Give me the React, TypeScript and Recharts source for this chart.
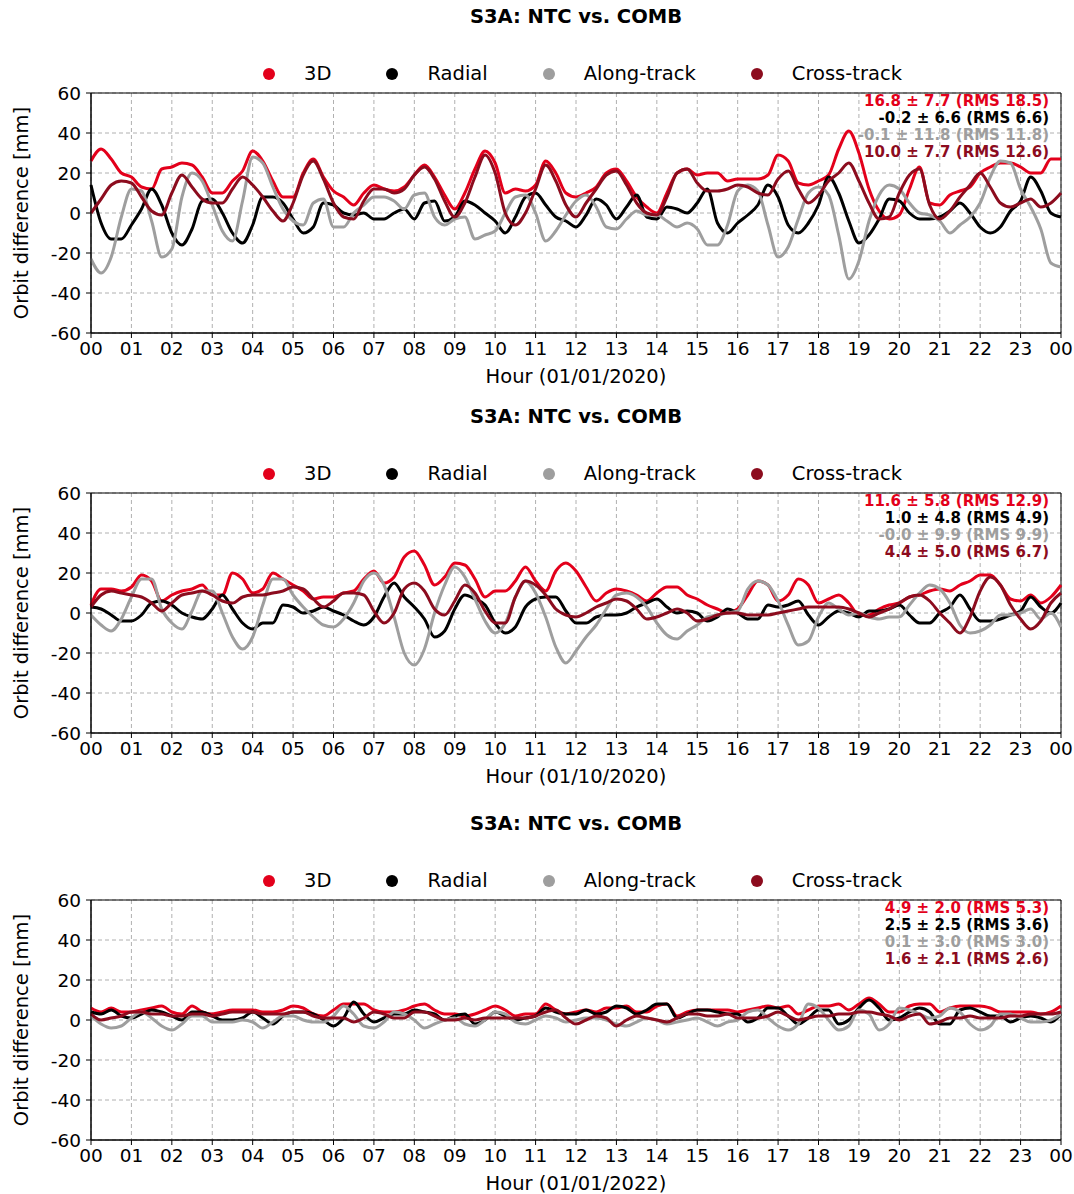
import React from 'react'
import { LineChart, Line, XAxis, YAxis, CartesianGrid, ReferenceArea } from 'recharts'

// quarter-hour sampling grid, 00:00 .. 24:00
const HOURS = Array.from({ length: 97 }, (_, i) => i / 4)
const X_TICKS = [0, 1, 2, 3, 4, 5, 6, 7, 8, 9, 10, 11, 12, 13, 14, 15, 16, 17, 18, 19, 20, 21, 22, 23, 24]
const Y_TICKS = [-60, -40, -20, 0, 20, 40, 60]
const SERIES_NAMES = ['3D', 'Radial', 'Along-track', 'Cross-track']
const COLORS = ['#e3001b', '#000000', '#9e9e9e', '#8c0c1e']
const TITLE = 'S3A: NTC vs. COMB'
const DATES = ['01/01/2020', '01/10/2020', '01/01/2022']

// panel 1 (01/01/2020)
const P1_3D = [
  26, 32, 27, 20, 18, 13, 12, 22, 23, 25, 24, 18, 10, 10, 16, 21, 31, 26, 16, 8, 8, 20, 27, 18, 11, 8, 4, 10, 14, 12, 11, 13, 19,
  24, 18, 9, 2, 10, 22, 31, 25, 10, 12, 11, 14, 26, 20, 10, 8, 10, 13, 20, 22, 16, 8, 3, 0, 10, 20, 22, 19, 20, 20, 16, 17,
  17, 17, 19, 29, 26, 15, 14, 16, 19, 32, 41, 30, 12, 1, -3, -1, 12, 23, 5, 4, 9, 11, 13, 20, 23, 25, 25, 23, 20, 20, 27, 27,
]
const P1_RAD = [
  14, -5, -13, -13, -6, 2, 12, 4, -10, -16, -8, 6, 7, 0, -10, -15, -6, 8, 8, 5, -3, -10, -7, 5, 4, 0, -1, 0, -3, -3, 0, 2, -3,
  5, 6, -4, -2, 6, 4, 0, -4, -10, -2, 8, 10, 4, -2, -4, -7, -1, 7, 4, -3, 3, 9, -2, -3, 3, 2, 0, 5, 12, -5, -10, -5,
  -1, 4, 14, 8, -6, -10, -5, 4, 18, 10, -4, -15, -11, -3, 7, 6, 0, -3, -3, -2, 1, 5, 0, -7, -10, -7, 1, 6, 18, 11, 0, -2,
]
const P1_ALONG = [
  -23, -30, -22, -2, 12, 11, -4, -22, -18, 8, 20, 16, 4, -9, -14, 6, 28, 25, 13, 2, -4, -6, 5, 7, -7, -7, 0, 4, 8, 8, 6, 2, 9,
  10, -2, -6, -3, -2, -13, -11, -9, 0, 8, 9, 0, -14, -9, -1, 6, 9, 3, -7, -8, -3, 1, -1, -1, -4, -7, -5, -8, -16, -16, -6, 11,
  14, 11, -6, -22, -17, -3, 10, 13, 9, -11, -33, -24, -4, 9, 14, 12, 5, 0, -1, -4, -10, -6, -2, 5, 18, 26, 25, 12, 3, -8, -25, -27,
]
const P1_CROSS = [
  0, 7, 14, 16, 15, 8, 1, -1, 10, 19, 13, 7, 5, 5, 12, 18, 14, 8, 1, -4, 5, 19, 26, 17, 5, -2, -3, 6, 12, 12, 10, 12, 19,
  23, 17, 6, -2, 5, 18, 29, 20, 0, -6, 0, 12, 24, 16, 4, -2, 5, 12, 19, 21, 14, 5, 0, -1, 8, 20, 22, 15, 11, 11, 12, 14,
  13, 10, 9, 17, 21, 12, 5, 9, 16, 20, 25, 16, 5, -3, -2, 10, 19, 22, 4, -3, 1, 8, 14, 20, 13, 5, 3, 5, 7, 3, 5, 10,
]
const P1_STATS = ['16.8 ± 7.7 (RMS 18.5)', '-0.2 ± 6.6 (RMS 6.6)', '-0.1 ± 11.8 (RMS 11.8)', '10.0 ± 7.7 (RMS 12.6)']

// panel 2 (01/10/2020)
const P2_3D = [
  4, 12, 12, 11, 13, 19, 16, 6, 9, 11, 12, 14, 9, 9, 20, 17, 10, 12, 20, 17, 14, 11, 7, 8, 8, 10, 11, 17, 21, 15, 18, 28, 31,
  24, 14, 18, 25, 24, 17, 8, 11, 11, 16, 23, 16, 11, 21, 25, 21, 13, 6, 10, 12, 11, 9, 6, 10, 13, 13, 9, 7, 4, 2, 0, 2,
  9, 16, 14, 6, 9, 17, 14, 5, 7, 9, 5, -1, -1, 2, 4, 5, 8, 9, 11, 12, 11, 14, 16, 19, 19, 14, 7, 6, 9, 5, 8, 14,
]
const P2_RAD = [
  3, 2, -1, -4, -4, -1, 5, 6, 4, 0, -2, -3, 2, 9, 2, -5, -8, -5, -5, 4, 3, 0, 1, 3, 1, -1, -4, -6, -2, 8, 15, 8, 3,
  -3, -12, -9, 2, 9, 7, 4, -5, -10, -7, 3, 7, 8, 8, 1, -5, -5, -2, -1, -1, 0, 3, 5, 7, 3, 0, 1, 0, -4, -2, 2, 0,
  -3, -3, 4, 3, 4, 6, -1, -6, -2, 1, 0, -2, 1, 1, 2, 4, -1, -5, -5, 0, 3, 9, 2, -4, -4, -3, -1, 1, 8, 3, 0, 5,
]
const P2_ALONG = [
  -1, -6, -9, -3, 8, 17, 17, 2, -5, -8, 1, 11, 11, 0, -12, -18, -12, 4, 17, 17, 9, 3, -2, -6, -7, -3, 5, 16, 20, 14, -2, -20, -26,
  -18, 0, 14, 23, 18, 7, -4, -10, -5, 8, 16, 10, -2, -17, -25, -19, -12, -6, 2, 9, 10, 8, 3, -5, -11, -13, -9, -6, -2, -1, 0, 1,
  12, 16, 14, 6, -6, -16, -14, -2, 5, 2, -1, 0, -2, -3, -2, -2, 4, 10, 14, 12, 5, -6, -10, -9, -6, -1, -1, 0, 2, -3, 0, -7,
]
const P2_CROSS = [
  3, 9, 11, 10, 9, 8, 5, 1, 5, 9, 10, 11, 9, 6, 5, 8, 9, 9, 10, 11, 13, 12, 7, 3, 6, 10, 10, 9, 1, -5, 0, 12, 15,
  11, 2, -1, 6, 14, 10, 1, -5, -5, 8, 16, 14, 9, 2, -1, -2, 0, 3, 5, 7, 6, 2, -3, -2, 0, 2, 0, -4, -3, -1, 0, 0,
  -1, -1, -1, 0, 1, 2, 3, 3, 3, 3, 2, 0, -2, 0, 2, 5, 8, 9, 6, 0, -5, -10, -2, 11, 18, 14, 4, -3, -8, -4, 5, 10,
]
const P2_STATS = ['11.6 ± 5.8 (RMS 12.9)', '1.0 ± 4.8 (RMS 4.9)', '-0.0 ± 9.9 (RMS 9.9)', '4.4 ± 5.0 (RMS 6.7)']

// panel 3 (01/01/2022)
const P3_3D = [
  6, 4, 6, 4, 4, 5, 6, 7, 4, 3, 7, 4, 3, 4, 5, 5, 5, 4, 4, 5, 7, 6, 3, 2, 5, 8, 8, 8, 5, 4, 4, 5, 7,
  8, 5, 3, 3, 2, 3, 5, 7, 5, 2, 3, 3, 8, 5, 3, 4, 5, 4, 6, 6, 7, 4, 4, 7, 8, 2, 4, 5, 5, 5, 5, 4,
  5, 6, 7, 6, 7, 3, 5, 7, 7, 8, 5, 8, 11, 8, 4, 4, 7, 8, 8, 4, 6, 7, 7, 7, 6, 4, 4, 4, 4, 3, 4, 7,
]
const P3_RAD = [
  4, 3, 5, 2, 1, 3, 5, 4, 2, 0, 4, 4, 2, 0, 0, 1, 4, 1, -2, 2, 4, 4, 3, 0, -3, 1, 9, 3, -1, 1, 3, 3, 5,
  4, 3, 0, 2, 3, -2, 0, 4, 2, 0, 1, 2, 6, 4, 3, 3, 5, 3, 4, 7, 6, 3, 5, 8, 8, 1, 3, 5, 5, 4, 3, 3,
  -1, 1, 6, 6, 2, -2, 1, 5, 5, -2, 0, 6, 10, 6, 0, 1, 4, 6, 4, -2, -2, 5, 6, 4, 2, 2, -1, 1, 2, 1, -1, 3,
]
const P3_ALONG = [
  2, -2, -4, -3, 1, 4, 1, -3, -5, -2, 2, 2, -1, -1, -1, 0, -1, -4, -1, 2, 2, 0, -1, -1, 2, 7, 3, -3, -4, -1, 4, 3, 0,
  -4, -2, 0, 1, -2, -3, 0, 4, 3, -1, -2, 0, 2, 1, -1, 0, 1, 1, 0, -2, -3, -1, 1, 0, -2, -1, 0, 1, -1, -3, -1, 0,
  4, 5, 1, -3, -5, -2, 8, 6, 0, -5, -3, 5, 3, -5, -2, 6, 5, 3, 1, 2, 6, 4, -2, -5, -3, 3, 3, 1, -1, -1, 0, 3,
]
const P3_CROSS = [
  3, 0, 1, 2, 4, 4, 3, 3, 2, 2, 3, 3, 2, 3, 4, 4, 4, 3, 3, 3, 4, 4, 2, 1, 1, 1, -1, 1, 4, 3, 1, 1, 4,
  4, 2, 0, 0, 1, 0, 1, 1, 1, 1, 1, 2, 4, 5, 1, -2, 0, 2, 1, -3, 0, 2, 1, 0, -1, 1, 3, 3, 2, 2, 3, 1,
  1, 1, 2, 4, 2, 0, 1, 2, 2, 3, 3, 4, 4, 3, 2, 0, 2, 3, -2, -1, 1, 1, 2, 1, 1, 1, 2, 2, 3, 3, 3, 4,
]
const P3_STATS = ['4.9 ± 2.0 (RMS 5.3)', '2.5 ± 2.5 (RMS 3.6)', '0.1 ± 3.0 (RMS 3.0)', '1.6 ± 2.1 (RMS 2.6)']

const FONT = '"DejaVu Sans", sans-serif'
const KEYS = ['d3', 'rad', 'along', 'cross']
const PLOT_TOP = 93
const PLOT_BOTTOM = 333
const AXIS_H = 40

function Panel({ top, height, date, series, stats }: any) {
  const data = HOURS.map((h, i) => ({
    h,
    d3: series[0][i],
    rad: series[1][i],
    along: series[2][i],
    cross: series[3][i],
  }))
  const tickStyle = { fontSize: 18.5, fill: '#000', fontFamily: FONT }

  return (
    <div style={{ position: 'absolute', left: 0, top, width: 1074, height }}>
      <LineChart
        width={1074}
        height={height}
        data={data}
        margin={{ top: PLOT_TOP, right: 13, bottom: height - PLOT_BOTTOM - AXIS_H, left: 0 }}
      >
        <CartesianGrid stroke="#b0b0b0" strokeDasharray="4 3" />
        <XAxis
          dataKey="h"
          type="number"
          domain={[0, 24]}
          ticks={X_TICKS}
          interval={0}
          height={AXIS_H}
          tick={tickStyle}
          tickSize={5}
          tickMargin={4}
          tickLine={{ stroke: '#000' }}
          axisLine={{ stroke: '#000' }}
          tickFormatter={(v: number) => String(v % 24).padStart(2, '0')}
        />
        <YAxis
          type="number"
          domain={[-60, 60]}
          ticks={Y_TICKS}
          interval={0}
          width={91}
          tick={tickStyle}
          tickSize={5}
          tickMargin={5}
          tickLine={{ stroke: '#000' }}
          axisLine={{ stroke: '#000' }}
        />
        {KEYS.map((k, i) => (
          <Line
            key={k}
            type="monotone"
            dataKey={k}
            stroke={COLORS[i]}
            strokeWidth={3}
            dot={false}
            isAnimationActive={false}
          />
        ))}
        <ReferenceArea x1={0} x2={24} y1={-60} y2={60} fill="none" stroke="#000" strokeWidth={1} />
      </LineChart>

      {/* title */}
      <div style={{ position: 'absolute', left: 91, width: 970, top: 5, textAlign: 'center', fontWeight: 'bold', fontSize: 19.5, lineHeight: '24px' }}>
        {TITLE}
      </div>

      {/* legend */}
      <div style={{ position: 'absolute', left: 91, width: 970, top: 62, display: 'flex', justifyContent: 'center', paddingLeft: 13, boxSizing: 'border-box', fontSize: 19.5, lineHeight: '24px' }}>
        {SERIES_NAMES.map((name, i) => (
          <div key={name} style={{ display: 'flex', alignItems: 'center', marginRight: i < 3 ? 55 : 0 }}>
            <span style={{ width: 12, height: 12, borderRadius: 6, background: COLORS[i], marginRight: 29, display: 'inline-block' }} />
            <span>{name}</span>
          </div>
        ))}
      </div>

      {/* stats box */}
      <div style={{ position: 'absolute', right: 25, top: PLOT_TOP, textAlign: 'right', fontWeight: 'bold', fontSize: 15, lineHeight: '17px' }}>
        {stats.map((s: string, i: number) => (
          <div key={i} style={{ color: COLORS[i] }}>{s}</div>
        ))}
      </div>

      {/* axis labels */}
      <div style={{ position: 'absolute', left: 91, width: 970, top: 365, textAlign: 'center', fontSize: 19.5, lineHeight: '24px' }}>
        Hour ({date})
      </div>
      <div style={{ position: 'absolute', left: 22 - 150, top: 213 - 12, width: 300, height: 24, lineHeight: '24px', textAlign: 'center', fontSize: 19.5, transform: 'rotate(-90deg)' }}>
        Orbit difference [mm]
      </div>
    </div>
  )
}

export default function App() {
  return (
    <div style={{ position: 'absolute', left: 0, top: 0, width: 1074, height: 1194, background: '#fff', fontFamily: FONT, color: '#000', overflow: 'hidden' }}>
      <Panel top={0} height={400} date={DATES[0]} series={[P1_3D, P1_RAD, P1_ALONG, P1_CROSS]} stats={P1_STATS} />
      <Panel top={400} height={400} date={DATES[1]} series={[P2_3D, P2_RAD, P2_ALONG, P2_CROSS]} stats={P2_STATS} />
      <Panel top={807} height={387} date={DATES[2]} series={[P3_3D, P3_RAD, P3_ALONG, P3_CROSS]} stats={P3_STATS} />
    </div>
  )
}
